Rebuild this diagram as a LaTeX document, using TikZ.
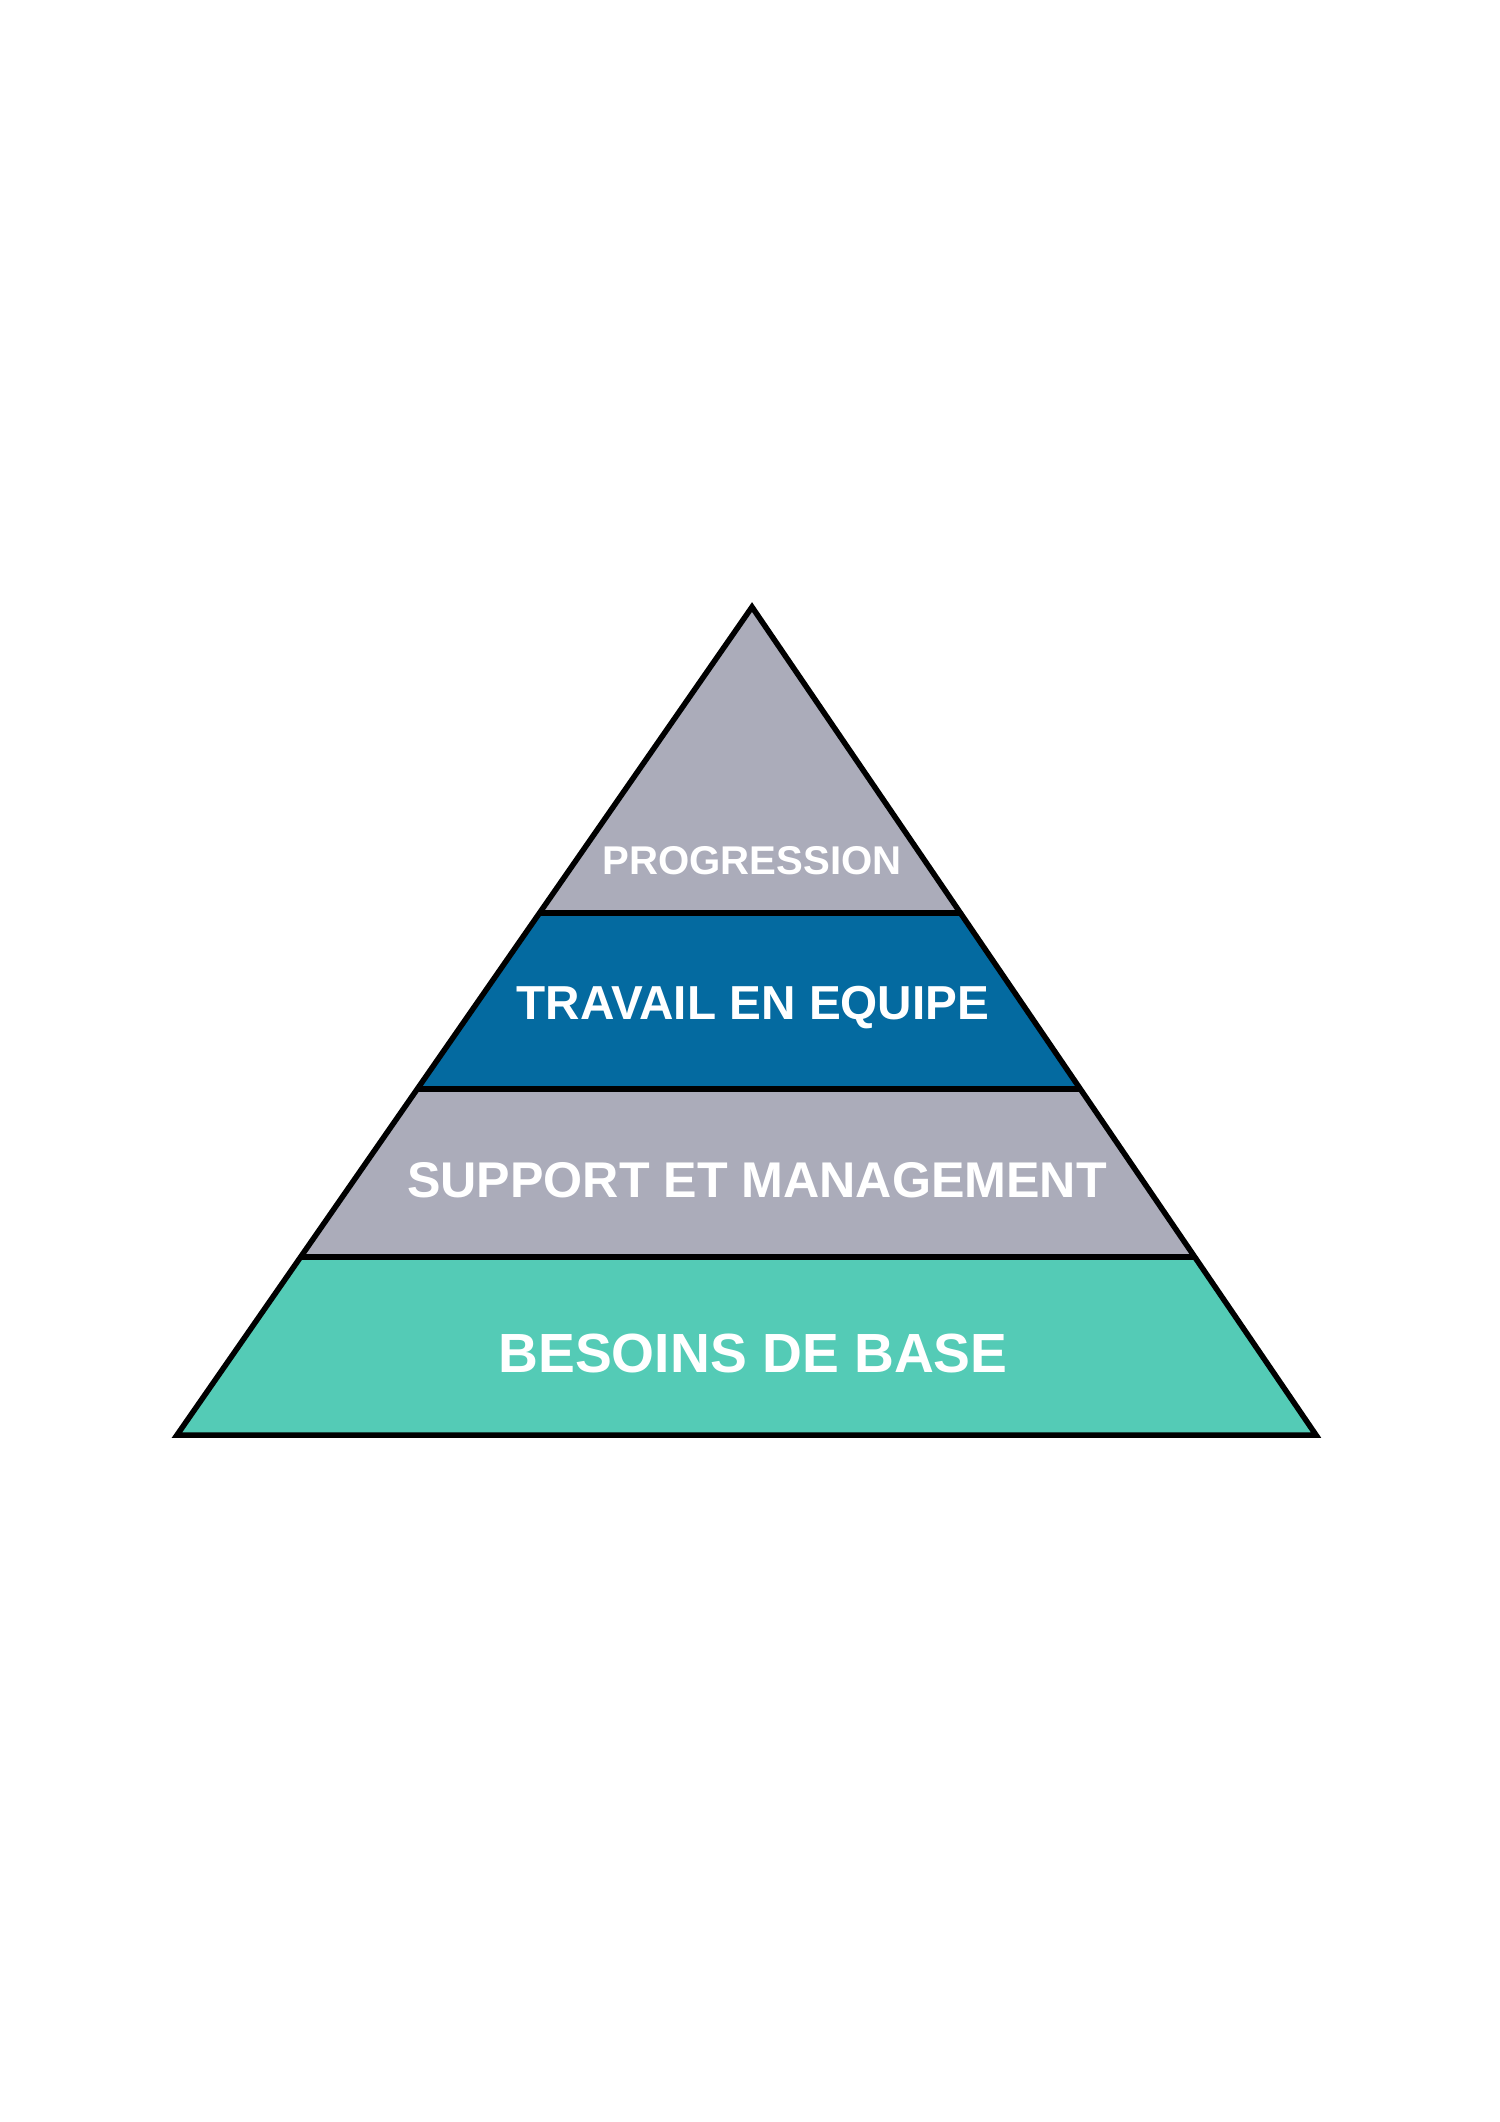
\documentclass[tikz,border=0pt]{standalone}
\usepackage{fontspec}
\setmainfont{Liberation Sans}
\definecolor{levelgray}{RGB}{171,172,186}
\definecolor{levelblue}{RGB}{4,106,160}
\definecolor{levelteal}{RGB}{84,203,182}
\tikzset{band/.style={draw=none}}
\tikzset{divider/.style={draw=black,line width=2.2pt}}
\tikzset{outline/.style={draw=black,line width=2.2pt,line join=miter}}
\tikzset{levelname/.style={text=white,inner sep=0mm,font=\bfseries}}

\begin{document}
\begin{tikzpicture}[x=0.014cm,y=-0.014cm]
    \useasboundingbox (0,0) rectangle (1500,2122);

    \coordinate (apex) at (752,607);
    \coordinate (l1) at (539,913);
    \coordinate (r1) at (961,913);
    \coordinate (l2) at (417,1089);
    \coordinate (r2) at (1082,1089);
    \coordinate (l3) at (300,1257);
    \coordinate (r3) at (1196,1257);
    \coordinate (bl) at (177,1435);
    \coordinate (br) at (1316,1435);

    \fill[band,levelgray] (apex) -- (r1) -- (l1) -- cycle;
    \fill[band,levelblue] (l1) -- (r1) -- (r2) -- (l2) -- cycle;
    \fill[band,levelgray] (l2) -- (r2) -- (r3) -- (l3) -- cycle;
    \fill[band,levelteal] (l3) -- (r3) -- (br) -- (bl) -- cycle;

    \draw[divider] (l1) -- (r1);
    \draw[divider] (l2) -- (r2);
    \draw[divider] (l3) -- (r3);
    \draw[outline] (apex) -- (br) -- (bl) -- cycle;

    \node[levelname,font=\bfseries\fontsize{16}{19}\selectfont] (progression) at (752,861) {PROGRESSION};
    \node[levelname,font=\bfseries\fontsize{19}{23}\selectfont] (travail) at (753,1008) {TRAVAIL EN EQUIPE};
    \node[levelname,font=\bfseries\fontsize{20}{24}\selectfont] (support) at (757,1180) {SUPPORT ET MANAGEMENT};
    \node[levelname,font=\bfseries\fontsize{22}{26}\selectfont] (besoins) at (753,1353) {BESOINS DE BASE};
\end{tikzpicture}
\end{document}
